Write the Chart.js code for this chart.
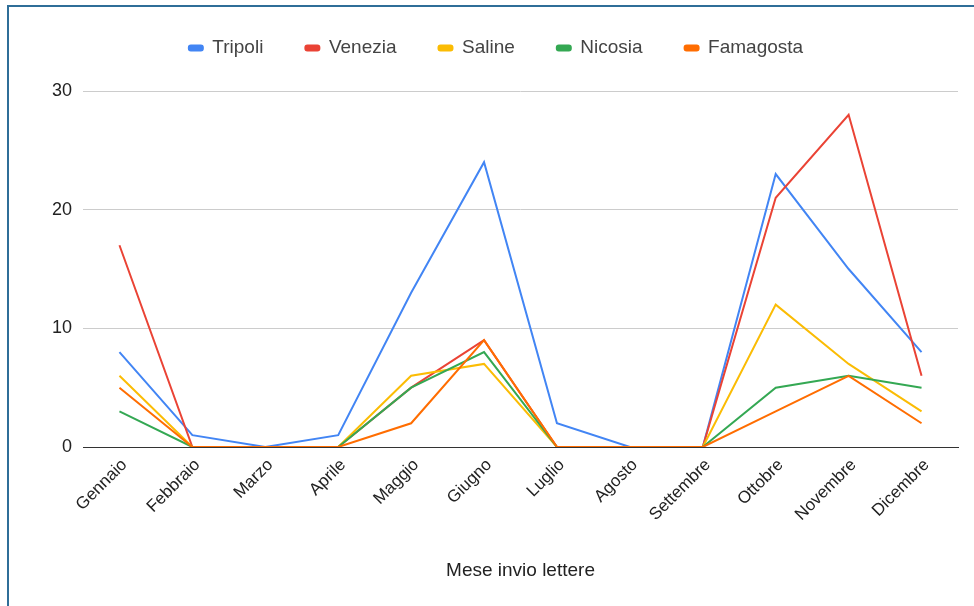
<!DOCTYPE html>
<html>
<head>
<meta charset="utf-8">
<title>Mese invio lettere</title>
<script src="https://cdn.jsdelivr.net/npm/chart.js@4/dist/chart.umd.min.js"></script>
<style>
  html, body { margin: 0; padding: 0; background: #ffffff; }
  #wrap { position: relative; width: 974px; height: 606px; overflow: hidden; }
  #wrap canvas { position: absolute; left: 0; top: 0; }
  #frame {
    position: absolute; left: 7px; top: 5px; right: -4px; bottom: -4px;
    border-top: 2px solid #2f6e98; border-left: 2px solid #2f6e98;
    pointer-events: none;
  }
</style>
</head>
<body>
<div id="wrap">
  <canvas id="chart" width="974" height="606"></canvas>
  <div id="frame"></div>
</div>
<script>
// Months of the year (category axis)
const months = ['Gennaio', 'Febbraio', 'Marzo', 'Aprile', 'Maggio', 'Giugno',
                'Luglio', 'Agosto', 'Settembre', 'Ottobre', 'Novembre', 'Dicembre'];

// Letters sent per month, one list per city
const tripoli   = [8, 1, 0, 1, 13, 24, 2, 0, 0, 23, 15, 8];
const venezia   = [17, 0, 0, 0, 5, 9, 0, 0, 0, 21, 28, 6];
const saline    = [6, 0, 0, 0, 6, 7, 0, 0, 0, 12, 7, 3];
const nicosia   = [3, 0, 0, 0, 5, 8, 0, 0, 0, 5, 6, 5];
const famagosta = [5, 0, 0, 0, 2, 9, 0, 0, 0, 3, 6, 2];

const cityNames = ['Tripoli', 'Venezia', 'Saline', 'Nicosia', 'Famagosta'];
const citySeries = [tripoli, venezia, saline, nicosia, famagosta];
const cityColors = ['#4285f4', '#ea4335', '#fbbc04', '#34a853', '#ff6d01'];

// Value axis ticks
const yTicks = [0, 10, 20, 30];
const xTitle = 'Mese invio lettere';

const FONT = "Arial, 'Liberation Sans', sans-serif";

const datasets = cityNames.map((name, i) => ({
  label: name,
  data: citySeries[i],
  borderColor: cityColors[i],
  backgroundColor: cityColors[i],
  borderWidth: 2,
  pointRadius: 0,
  pointHoverRadius: 0,
  tension: 0,
  fill: false,
  // later cities are painted above earlier ones
  order: cityNames.length - i
}));

// Give the legend a fixed band height and nudge its contents
const legendBand = {
  id: 'legendBand',
  beforeInit(chart) {
    const legend = chart.legend;
    const fit = legend.fit;
    legend.fit = function () {
      fit.call(this);
      this.height = 91;
    };
    const draw = legend.draw;
    legend.draw = function () {
      const ctx = this.ctx;
      ctx.save();
      ctx.translate(17, -3.5);
      draw.call(this);
      ctx.restore();
    };
  }
};

new Chart(document.getElementById('chart'), {
  type: 'line',
  data: { labels: months, datasets },
  plugins: [legendBand],
  options: {
    responsive: false,
    animation: false,
    events: [],
    layout: { padding: { left: 0, right: 16, top: 0, bottom: 24 } },
    plugins: {
      tooltip: { enabled: false },
      legend: {
        position: 'top',
        align: 'center',
        labels: {
          sort: (a, b) => a.datasetIndex - b.datasetIndex,
          boxWidth: 14,
          boxHeight: 5,
          useBorderRadius: true,
          borderRadius: 2,
          padding: 42,
          color: '#444444',
          font: { family: FONT, size: 19 }
        }
      }
    },
    scales: {
      x: {
        type: 'category',
        offset: true,
        grid: { display: false, drawTicks: false },
        border: { display: true, color: '#333333', width: 1 },
        ticks: {
          autoSkip: false,
          maxRotation: 45,
          minRotation: 45,
          padding: 8,
          labelOffset: 5,
          color: '#222222',
          font: { family: FONT, size: 17 }
        },
        title: {
          display: true,
          text: xTitle,
          color: '#222222',
          font: { family: FONT, size: 19 },
          padding: { top: 0, bottom: 0 }
        },
        afterFit(scale) { scale.height = 606 - 24 - 447; }
      },
      y: {
        min: 0,
        max: 30,
        grid: {
          drawTicks: false,
          color: (ctx) => (ctx.tick && ctx.tick.value === 0 ? '#333333' : '#cccccc'),
          lineWidth: 1
        },
        border: { display: false },
        afterBuildTicks(scale) { scale.ticks = yTicks.map(v => ({ value: v })); },
        ticks: {
          padding: 11,
          color: '#222222',
          font: { family: FONT, size: 18 }
        },
        afterFit(scale) { scale.width = 83; }
      }
    }
  }
});
</script>
</body>
</html>
